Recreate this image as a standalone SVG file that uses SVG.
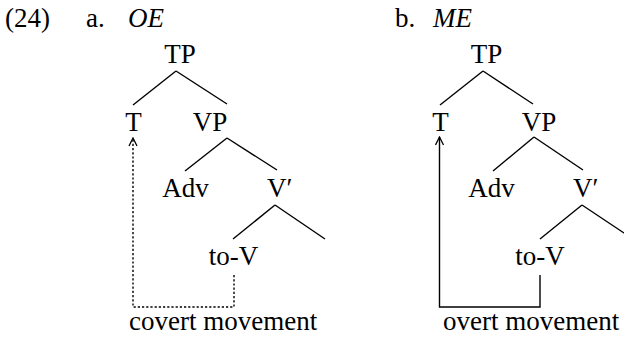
<svg xmlns="http://www.w3.org/2000/svg" width="624" height="337" viewBox="0 0 624 337">
<defs>
<style>
text{font-family:"Liberation Serif","Times New Roman",serif;font-size:27px;fill:#000}
.n{text-anchor:middle}
.i{font-style:italic}
.e{stroke:#000;stroke-width:1.4;fill:none}
.dot{stroke-dasharray:2.2 2}
</style>
<marker id="ah" viewBox="0 0 10 10" refX="9" refY="5" markerWidth="10" markerHeight="10" markerUnits="userSpaceOnUse" orient="auto">
<path d="M1,1 L9,5 L1,9" fill="none" stroke="#000" stroke-width="1.3"/>
</marker>
</defs>
<rect width="624" height="337" fill="#fff"/>
<g id="labels">
<text x="5" y="27">(24)</text>
<text x="86" y="27">a.</text>
<text x="128" y="27" class="i">OE</text>
<text x="395" y="27">b.</text>
<text x="433" y="27" class="i">ME</text>
</g>
<g id="connectors">
<line class="e" x1="176" y1="71" x2="133" y2="105"/>
<line class="e" x1="176" y1="71" x2="227" y2="104"/>
<line class="e" x1="227" y1="138" x2="185" y2="171"/>
<line class="e" x1="227" y1="138" x2="277" y2="170"/>
<line class="e" x1="275" y1="205" x2="233" y2="239"/>
<line class="e" x1="275" y1="205" x2="325" y2="239"/>
<path class="e dot" d="M234,275 V307 H133 V138" marker-end="url(#ah)"/>
<line class="e" x1="483" y1="71" x2="440" y2="105"/>
<line class="e" x1="483" y1="71" x2="533" y2="104"/>
<line class="e" x1="534" y1="137" x2="493" y2="171"/>
<line class="e" x1="534" y1="137" x2="583" y2="170"/>
<line class="e" x1="582" y1="205" x2="540" y2="239"/>
<line class="e" x1="582" y1="205" x2="633" y2="239"/>
<path class="e" d="M540,275 V307 H439.5 V137" marker-end="url(#ah)"/>
</g>
<g id="a-TP"><text class="n" x="180" y="63">TP</text></g>
<g id="a-T"><text class="n" x="133.5" y="131">T</text></g>
<g id="a-VP"><text class="n" x="210" y="131">VP</text></g>
<g id="a-Adv"><text class="n" x="185.5" y="197">Adv</text></g>
<g id="a-Vbar"><text x="267" y="197">V′</text></g>
<g id="a-toV"><text class="n" x="233.5" y="265">to-V</text></g>
<g id="a-caption"><text x="129" y="330">covert movement</text></g>
<g id="b-TP"><text class="n" x="486.5" y="63">TP</text></g>
<g id="b-T"><text class="n" x="440.5" y="131">T</text></g>
<g id="b-VP"><text class="n" x="539" y="131">VP</text></g>
<g id="b-Adv"><text class="n" x="491.5" y="197">Adv</text></g>
<g id="b-Vbar"><text x="573" y="197">V′</text></g>
<g id="b-toV"><text class="n" x="540" y="265">to-V</text></g>
<g id="b-caption"><text x="443" y="330">overt movement</text></g>
</svg>
